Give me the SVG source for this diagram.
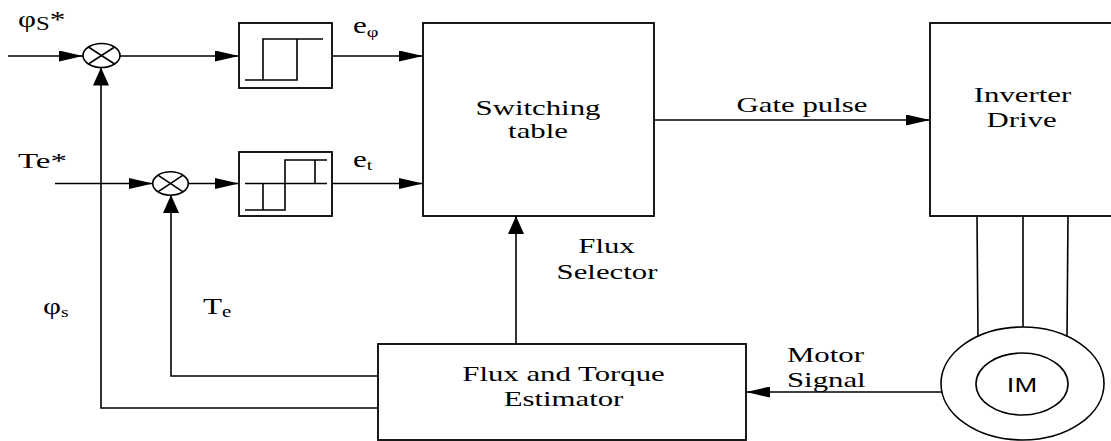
<svg xmlns="http://www.w3.org/2000/svg" width="1111" height="441" viewBox="0 0 1111 441">
<style>
.ln{fill:none;stroke:#000;stroke-width:1.6}
.bx{fill:#fff;stroke:#000;stroke-width:1.8}
.t{font-family:"Liberation Serif","Times New Roman",serif;font-size:22px;fill:#000}
.c{text-anchor:middle}
.s{font-family:"Liberation Sans",Arial,sans-serif;font-size:21px;fill:#000;text-anchor:middle}
</style>
<defs>
<marker id="ah" markerUnits="userSpaceOnUse" markerWidth="24" markerHeight="11" refX="24" refY="5.5" orient="auto"><path d="M0,0 L24,5.5 L0,11 z" fill="#000"/></marker>
<marker id="av" markerUnits="userSpaceOnUse" markerWidth="18" markerHeight="16" refX="18" refY="8" orient="auto"><path d="M0,0 L18,8 L0,16 z" fill="#000"/></marker>
</defs>
<rect width="1111" height="441" fill="#fff"/>

<g id="connectors">
<path class="ln" d="M8,56 H83" marker-end="url(#ah)"/>
<path class="ln" d="M120,56 H239" marker-end="url(#ah)"/>
<path class="ln" d="M332,56 H423" marker-end="url(#ah)"/>
<path class="ln" d="M55,183.5 H153" marker-end="url(#ah)"/>
<path class="ln" d="M188,183.5 H239" marker-end="url(#ah)"/>
<path class="ln" d="M332,183.5 H423" marker-end="url(#ah)"/>
<path class="ln" d="M654,120 H930" marker-end="url(#ah)"/>
<path class="ln" d="M942,392 H746" marker-end="url(#ah)"/>
<path class="ln" d="M516,344 V216" marker-end="url(#av)"/>
<path class="ln" d="M378,376 H171 V195" marker-end="url(#av)"/>
<path class="ln" d="M378,408 H101 V67.5" marker-end="url(#av)"/>
<path class="ln" d="M977,216 L978,337 M1023,216 V327 M1068,216 L1067,337"/>
</g>

<g id="sum1">
<ellipse class="ln" cx="101.5" cy="55.5" rx="18.5" ry="12"/>
<path class="ln" d="M88.4,47 L114.6,64 M88.4,64 L114.6,47"/>
</g>
<g id="sum2">
<ellipse class="ln" cx="170.5" cy="183.5" rx="17.8" ry="11.7"/>
<path class="ln" d="M157.9,175.2 L183.1,191.8 M157.9,191.8 L183.1,175.2"/>
</g>

<g id="hyst-flux">
<rect class="bx" x="239" y="23" width="93" height="65"/>
<path class="ln" d="M245,80 H297 V39 M263,80 V39 H323"/>
</g>
<g id="hyst-torque">
<rect class="bx" x="239" y="152" width="93" height="64"/>
<path class="ln" d="M245,183.5 H327 M245,210 H285 V160 H327 M263,183.5 V210 M315,160 V183.5"/>
</g>

<g id="switching">
<rect class="bx" x="423" y="23" width="231" height="193"/>
<text class="t c" transform="translate(538,115) scale(1.4,1)">Switching</text>
<text class="t c" transform="translate(538,138) scale(1.4,1)">table</text>
</g>

<g id="inverter">
<rect class="bx" x="930" y="23" width="184" height="193"/>
<text class="t c" transform="translate(1022.5,102) scale(1.4,1)">Inverter</text>
<text class="t c" transform="translate(1021.5,127) scale(1.4,1)">Drive</text>
</g>

<g id="estimator">
<rect class="bx" x="378" y="344" width="368" height="96"/>
<text class="t c" transform="translate(563.5,381) scale(1.4,1)">Flux and Torque</text>
<text class="t c" transform="translate(563.5,406) scale(1.4,1)">Estimator</text>
</g>

<g id="motor">
<ellipse class="ln" cx="1022.5" cy="383.5" rx="81.5" ry="56.5"/>
<ellipse class="ln" cx="1022" cy="384" rx="46" ry="31"/>
<text class="s" transform="translate(1022,392) scale(1.3,1)">IM</text>
</g>

<g id="labels">
<g transform="translate(18,27) scale(1.3,1)"><text class="t"><tspan font-size="24">φ</tspan><tspan font-size="19" dy="3">S</tspan><tspan font-size="24" dy="-3">*</tspan></text></g>
<g transform="translate(18,168) scale(1.5,1)"><text class="t" font-size="23">Te*</text></g>
<g transform="translate(353,33) scale(1.35,1)"><text class="t"><tspan font-size="23">e</tspan><tspan font-size="15" dy="4">φ</tspan></text></g>
<g transform="translate(353,167) scale(1.35,1)"><text class="t"><tspan font-size="23">e</tspan><tspan font-size="15" dy="3">t</tspan></text></g>
<g transform="translate(43,314) scale(1.3,1)"><text class="t"><tspan font-size="24">φ</tspan><tspan font-size="15" dy="3">s</tspan></text></g>
<g transform="translate(203,314) scale(1.3,1)"><text class="t"><tspan font-size="24">T</tspan><tspan font-size="16" dy="3">e</tspan></text></g>
<text class="t c" transform="translate(802,112) scale(1.4,1)">Gate pulse</text>
<text class="t c" transform="translate(606.5,253) scale(1.4,1)">Flux</text>
<text class="t c" transform="translate(607,279) scale(1.4,1)">Selector</text>
<text class="t" transform="translate(787,362) scale(1.4,1)">Motor</text>
<text class="t" transform="translate(787,387) scale(1.4,1)">Signal</text>
</g>
</svg>
